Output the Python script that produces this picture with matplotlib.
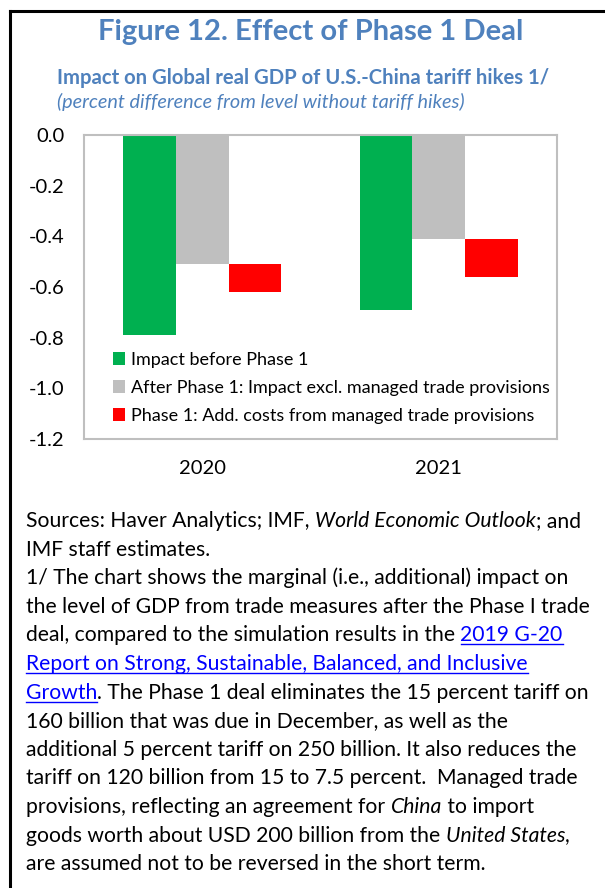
import matplotlib
matplotlib.use('Agg')
import matplotlib.pyplot as plt
from matplotlib.lines import Line2D
import numpy as np

# data
years = ['2020', '2021']
before_phase1 = [-0.79, -0.69]
after_phase1 = [-0.51, -0.41]
managed_trade_cost = [-0.11, -0.15]
series_labels = ['Impact before Phase 1',
                 'After Phase 1: Impact excl. managed trade provisions',
                 'Phase 1: Add. costs from managed trade provisions']
yticks = [0.0, -0.2, -0.4, -0.6, -0.8, -1.0, -1.2]

GREEN = '#00b050'
GRAY = '#bfbfbf'
RED = '#ff0000'
BLUE = '#4f81bd'
LINK = '#0000ff'

plt.rcParams['font.family'] = ['Lato', 'DejaVu Sans']

W, H = 605, 888
fig = plt.figure(figsize=(W / 100, H / 100), dpi=100)


def fx(px):
    return px / W


def fy(py):
    return 1 - py / H


# outer frame (left + top edges only)
fig.add_artist(Line2D([fx(10), fx(10)], [fy(11), 0], transform=fig.transFigure,
                      color='black', lw=2.2))
fig.add_artist(Line2D([fx(10), 1], [fy(11), fy(11)], transform=fig.transFigure,
                      color='black', lw=2.2))

# titles
fig.text(fx(311), fy(32), 'Figure 12. Effect of Phase 1 Deal', fontsize=21,
         weight='bold', color=BLUE, ha='center', va='center')
fig.text(fx(57), fy(78), 'Impact on Global real GDP of U.S.-China tariff hikes 1/',
         fontsize=14.6, weight='bold', color=BLUE, ha='left', va='center')
fig.text(fx(57), fy(102), '(percent difference from level without tariff hikes)',
         fontsize=14.3, style='italic', color=BLUE, ha='left', va='center')

# bar chart
ax = fig.add_axes([fx(84), fy(439), (557 - 84) / W, (439 - 135) / H])
x = np.arange(len(years))
w = 0.222
ax.bar(x - w, before_phase1, w, color=GREEN, label=series_labels[0])
ax.bar(x, after_phase1, w, color=GRAY, label=series_labels[1])
ax.bar(x + w, managed_trade_cost, w, bottom=after_phase1, color=RED,
       label=series_labels[2])
ax.set_xlim(-0.5, 1.5)
ax.set_ylim(-1.2, 0)
ax.set_yticks(yticks)
ax.set_yticklabels([f'{v:.1f}' for v in yticks])
ax.set_xticks(x)
ax.set_xticklabels(years)
ax.tick_params(axis='both', length=0, labelsize=14.5, colors='black')
ax.tick_params(axis='y', pad=14)
ax.tick_params(axis='x', pad=15)
for sp in ax.spines.values():
    sp.set_color('#bfbfbf')
    sp.set_linewidth(1.5)

ax.legend(loc='lower left', bbox_to_anchor=(0.045, 0.027), frameon=False,
          fontsize=13, handlelength=0.7, handleheight=0.7, handletextpad=0.35,
          labelspacing=0.66, borderaxespad=0)

# footnote, built segment by segment so italics and links sit inline
notes = [
    [('Sources: Haver Analytics; IMF, ', 'n'), ('World Economic Outlook', 'i'), ('; and', 'n')],
    [('IMF staff estimates.', 'n')],
    [('1/ The chart shows the marginal (i.e., additional) impact on', 'n')],
    [('the level of GDP from trade measures after the Phase I trade', 'n')],
    [('deal, compared to the simulation results in the ', 'n'), ('2019 G-20', 'l')],
    [('Report on Strong, Sustainable, Balanced, and Inclusive', 'l')],
    [('Growth', 'l'), ('. The Phase 1 deal eliminates the 15 percent tariff on', 'n')],
    [('160 billion that was due in December, as well as the', 'n')],
    [('additional 5 percent tariff on 250 billion. It also reduces the', 'n')],
    [('tariff on 120 billion from 15 to 7.5 percent.  Managed trade', 'n')],
    [('provisions, reflecting an agreement for ', 'n'), ('China', 'i'), (' to import', 'n')],
    [('goods worth about USD 200 billion from the ', 'n'), ('United States', 'i'), (',', 'n')],
    [('are assumed not to be reversed in the short term.', 'n')],
]

renderer = fig.canvas.get_renderer()
NOTE_SIZE = 15.2


def seg_width(s, style):
    # measure with a bar appended so trailing spaces count
    t1 = fig.text(0, 0, s + '|', fontsize=NOTE_SIZE, style=style)
    t2 = fig.text(0, 0, '|', fontsize=NOTE_SIZE, style=style)
    wpx = t1.get_window_extent(renderer).width - t2.get_window_extent(renderer).width
    t1.remove()
    t2.remove()
    return wpx


y0 = 527
step = 28.6
for i, line in enumerate(notes):
    xp = 26
    yp = y0 + i * step
    for s, kind in line:
        style = 'italic' if kind == 'i' else 'normal'
        color = LINK if kind == 'l' else 'black'
        fig.text(fx(xp), fy(yp), s, fontsize=NOTE_SIZE, style=style, color=color,
                 ha='left', va='baseline')
        wpx = seg_width(s, style)
        if kind == 'l':
            fig.add_artist(Line2D([fx(xp), fx(xp + wpx)], [fy(yp + 3), fy(yp + 3)],
                                  transform=fig.transFigure, color=LINK, lw=1))
        xp += wpx

fig.savefig('out.png', dpi=100)
